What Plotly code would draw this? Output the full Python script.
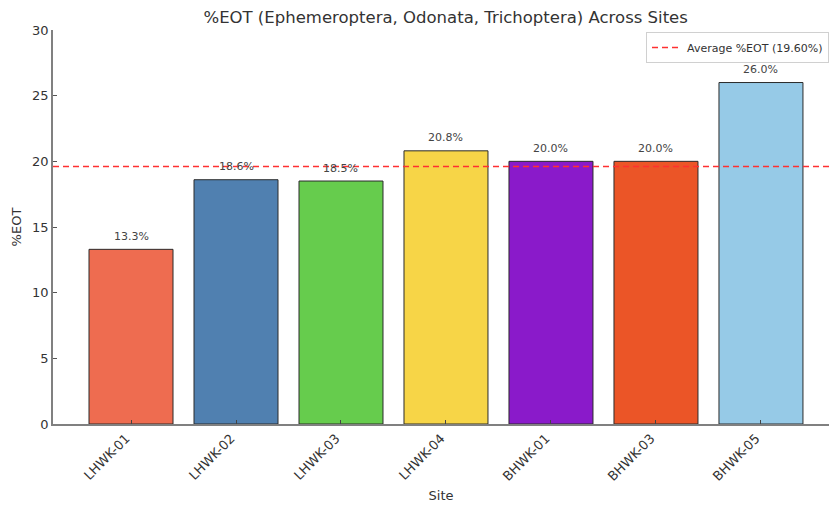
import plotly.graph_objects as go

sites = ["LHWK-01", "LHWK-02", "LHWK-03", "LHWK-04", "BHWK-01", "BHWK-03", "BHWK-05"]
eot_pct = [13.3, 18.6, 18.5, 20.8, 20.0, 20.0, 26.0]
bar_colors = ["#EE6C50", "#5080B0", "#66CC4D", "#F7D547", "#8A1ACA", "#EB5527", "#96CAE7"]
y_ticks = [0, 5, 10, 15, 20, 25, 30]

average = sum(eot_pct) / len(eot_pct)

FONT = "DejaVu Sans, Arial, sans-serif"
TEXT = "#333333"

fig = go.Figure()
fig.add_trace(go.Bar(
    x=sites,
    y=eot_pct,
    marker=dict(color=bar_colors, line=dict(color="#2b2b2b", width=1)),
    showlegend=False,
    hoverinfo="x+y",
))

# value labels above each bar
for s, v in zip(sites, eot_pct):
    fig.add_annotation(
        x=s, y=v, text=f"{v:.1f}%", showarrow=False,
        yshift=13, font=dict(family=FONT, size=11, color="#444444"),
    )

# average reference line
fig.add_shape(
    type="line", xref="paper", x0=0, x1=1, yref="y", y0=average, y1=average,
    line=dict(color="#FF3030", width=1.5, dash="6px,4px"),
    name=f"Average %EOT ({average:.2f}%)", showlegend=True,
)

fig.update_layout(
    width=829, height=506,
    margin=dict(l=53, r=0, t=30, b=82),
    paper_bgcolor="white", plot_bgcolor="white",
    bargap=0.2,
    font=dict(family=FONT, color=TEXT),
    title=dict(
        text="%EOT (Ephemeroptera, Odonata, Trichoptera) Across Sites",
        x=0.506, xref="paper", xanchor="center", y=0.965, yanchor="middle",
        font=dict(size=16.5, color=TEXT),
    ),
    legend=dict(
        x=1, xanchor="right", y=0.995, yanchor="top",
        bordercolor="#d0d0d0", borderwidth=1, bgcolor="rgba(255,255,255,0.85)",
        font=dict(size=11, color=TEXT),
        tracegroupgap=0, itemwidth=30,
    ),
    xaxis=dict(
        range=[-0.743, 6.648],
        tickangle=-45,
        ticks="inside", ticklen=4, tickcolor="#444444",
        layer="above traces",
        ticklabelshift=-5,
        showline=True, linecolor="#808080", linewidth=1.5,
        showgrid=False, zeroline=False,
        tickfont=dict(size=13, color=TEXT),
        title=dict(text="Site", font=dict(size=13, color=TEXT), standoff=8),
    ),
    yaxis=dict(
        range=[0, 30],
        tickvals=y_ticks,
        ticks="inside", ticklen=4, tickcolor="#555555",
        showline=True, linecolor="#808080", linewidth=1.5,
        showgrid=False, zeroline=False,
        tickfont=dict(size=13, color=TEXT),
        title=dict(text="%EOT", font=dict(size=13, color=TEXT), standoff=8),
    ),
)

fig.write_html("out.html")
